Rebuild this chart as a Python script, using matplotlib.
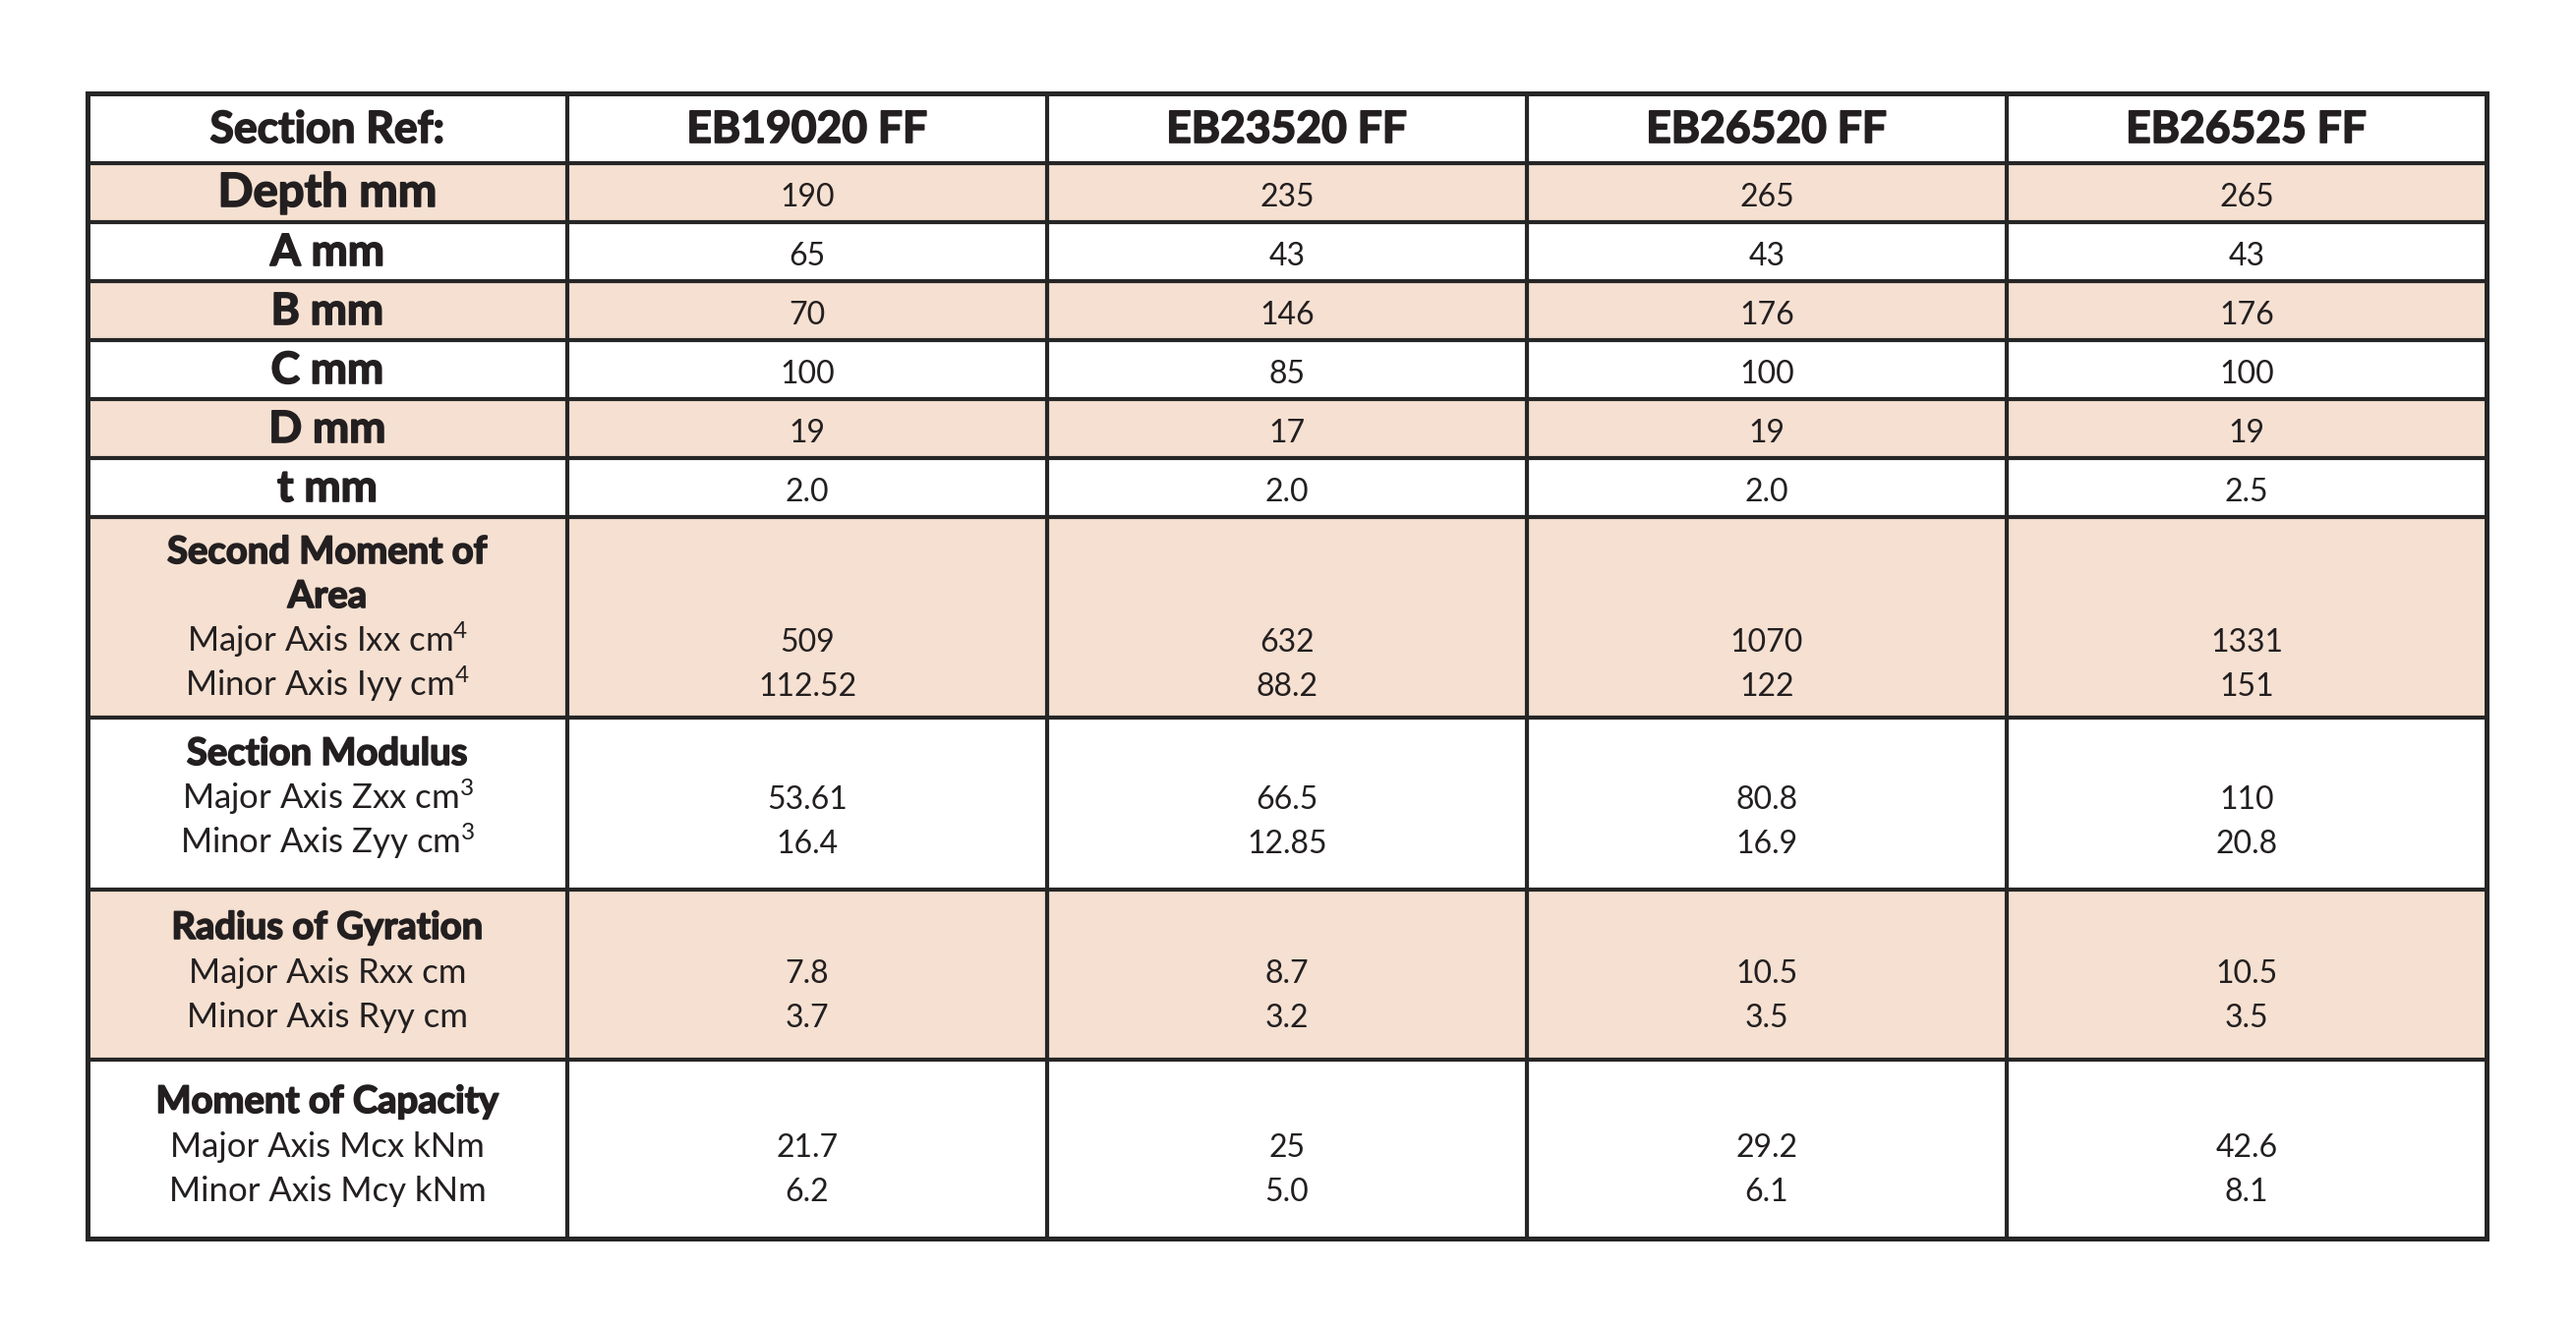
import matplotlib
matplotlib.use("Agg")
import matplotlib.pyplot as plt
from matplotlib.patches import Rectangle
import matplotlib.patheffects as pe

# ---------------- data ----------------
header_label = "Section Ref:"
columns = ["EB19020 FF", "EB23520 FF", "EB26520 FF", "EB26525 FF"]

simple_labels = ["Depth mm", "A mm", "B mm", "C mm", "D mm", "t mm"]
depth_mm = ["190", "235", "265", "265"]
a_mm = ["65", "43", "43", "43"]
b_mm = ["70", "146", "176", "176"]
c_mm = ["100", "85", "100", "100"]
d_mm = ["19", "17", "19", "19"]
t_mm = ["2.0", "2.0", "2.0", "2.5"]
simple_values = [depth_mm, a_mm, b_mm, c_mm, d_mm, t_mm]

group_titles = [["Second Moment of", "Area"], ["Section Modulus"],
                ["Radius of Gyration"], ["Moment of Capacity"]]
group_sublabels = [["Major Axis Ixx cm$^{4}$", "Minor Axis Iyy cm$^{4}$"],
                   ["Major Axis Zxx cm$^{3}$", "Minor Axis Zyy cm$^{3}$"],
                   ["Major Axis Rxx cm", "Minor Axis Ryy cm"],
                   ["Major Axis Mcx kNm", "Minor Axis Mcy kNm"]]
ixx = ["509", "632", "1070", "1331"]
iyy = ["112.52", "88.2", "122", "151"]
zxx = ["53.61", "66.5", "80.8", "110"]
zyy = ["16.4", "12.85", "16.9", "20.8"]
rxx = ["7.8", "8.7", "10.5", "10.5"]
ryy = ["3.7", "3.2", "3.5", "3.5"]
mcx = ["21.7", "25", "29.2", "42.6"]
mcy = ["6.2", "5.0", "6.1", "8.1"]
group_values = [(ixx, iyy), (zxx, zyy), (rxx, ryy), (mcx, mcy)]

# ---------------- layout (pixels) ----------------
W, H = 2620, 1350
col_edges = [89, 577, 1065, 1553, 2041, 2529]
row_edges = [95, 166, 226, 286, 346, 406, 466, 526, 730, 905, 1078, 1260]
group_first_baseline = [47, 48, 50, 54]
line_gap = 45

PEACH = "#F5E0D1"
INK = "#231F20"
LINE = "#262626"

FAM = ["Lato", "Noto Sans", "DejaVu Sans"]
plt.rcParams["font.family"] = FAM
plt.rcParams["mathtext.default"] = "regular"

fig = plt.figure(figsize=(W / 100, H / 100), dpi=100)
fig.patch.set_facecolor("white")
ax = fig.add_axes([0, 0, 1, 1])
ax.set_xlim(0, W)
ax.set_ylim(H, 0)
ax.axis("off")

# backgrounds
n_rows = len(row_edges) - 1
for r in range(1, n_rows):
    if r % 2 == 1:
        ax.add_patch(Rectangle((col_edges[0], row_edges[r]),
                               col_edges[-1] - col_edges[0],
                               row_edges[r + 1] - row_edges[r],
                               facecolor=PEACH, edgecolor="none", zorder=0))

# grid lines
lw = 3.0
for y in row_edges[1:-1]:
    ax.plot([col_edges[0], col_edges[-1]], [y, y], color=LINE, lw=lw,
            solid_capstyle="butt", zorder=2)
for x in col_edges[1:-1]:
    ax.plot([x, x], [row_edges[0], row_edges[-1]], color=LINE, lw=lw,
            solid_capstyle="butt", zorder=2)
ax.add_patch(Rectangle((col_edges[0], row_edges[0]),
                       col_edges[-1] - col_edges[0],
                       row_edges[-1] - row_edges[0],
                       facecolor="none", edgecolor=LINE, lw=3.6,
                       joinstyle="miter", zorder=3))

label_cx = (col_edges[0] + col_edges[1]) / 2
col_cx = [(col_edges[i] + col_edges[i + 1]) / 2 for i in range(1, len(col_edges) - 1)]

HEAVY = [pe.withStroke(linewidth=1.2, foreground=INK)]


def txt(x, y, s, size, weight="normal", heavy=False):
    t = ax.text(x, y, s, ha="center", va="baseline", fontsize=size,
                fontweight=weight, color=INK, family=FAM, zorder=4)
    if heavy:
        t.set_path_effects(HEAVY)


# header row
hb = row_edges[0] + 50
txt(label_cx, hb, header_label, 32, "bold", True)
for cx, name in zip(col_cx, columns):
    txt(cx, hb, name, 32, "bold", True)

# simple rows
for i, (lab, vals) in enumerate(zip(simple_labels, simple_values)):
    top = row_edges[1 + i]
    b = top + 44
    txt(label_cx, b, lab, 34 if i == 0 else 32, "bold", True)
    for cx, v in zip(col_cx, vals):
        txt(cx, b, v, 23)

# grouped rows
for g, (titles, subs, (v1, v2)) in enumerate(zip(group_titles, group_sublabels, group_values)):
    top = row_edges[7 + g]
    b = top + group_first_baseline[g]
    for t in titles:
        txt(label_cx, b, t, 27.5, "bold", True)
        b += line_gap
    txt(label_cx, b, subs[0], 25)
    for cx, v in zip(col_cx, v1):
        txt(cx, b, v, 23)
    b += line_gap
    txt(label_cx, b, subs[1], 25)
    for cx, v in zip(col_cx, v2):
        txt(cx, b, v, 23)

fig.savefig("out.png", dpi=100, facecolor="white")
